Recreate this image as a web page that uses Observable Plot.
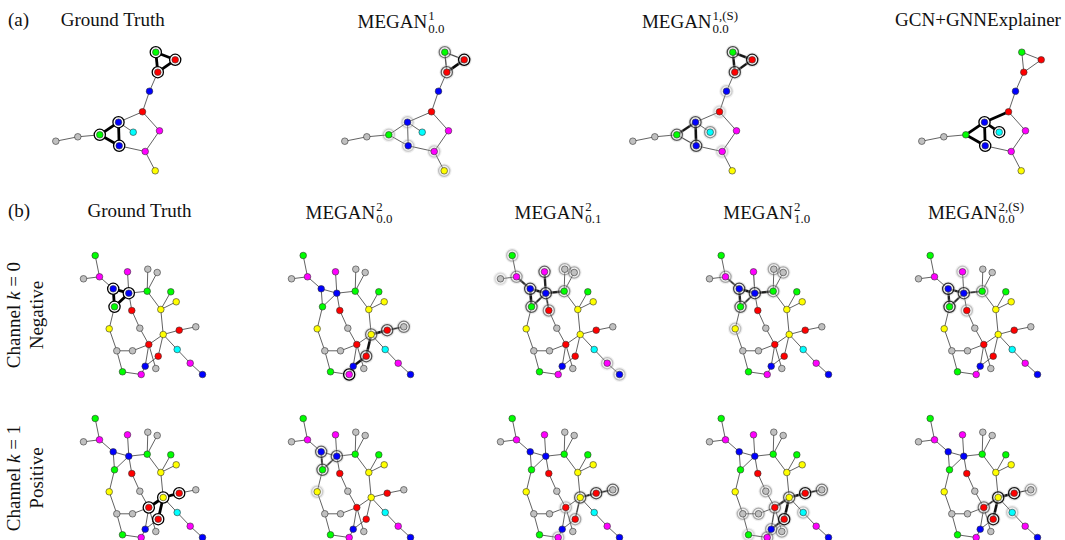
<!DOCTYPE html>
<html>
<head>
<meta charset="utf-8">
<script src="https://cdn.jsdelivr.net/npm/d3@7"></script>
<script src="https://cdn.jsdelivr.net/npm/@observablehq/plot@0.6"></script>
<style>
  body { margin: 0; background: white; }
  #fig { position: relative; width: 1065px; height: 540px; background: white; overflow: hidden;
         font-family: "Liberation Serif", "DejaVu Serif", serif; color: #111; }
  .panel { position: absolute; }
  .title { position: absolute; width: 240px; text-align: center; font-size: 19px; line-height: 19px; white-space: nowrap; }
  .tag { position: absolute; font-size: 19px; line-height: 19px; }
  .ss { display: inline-flex; flex-direction: column; align-items: flex-start; font-size: 0.68em; line-height: 1;
        vertical-align: 0.62em; margin-left: 1px; }
  .row { position: absolute; width: 200px; height: 46px; line-height: 23px; font-size: 19px; text-align: center;
         transform: rotate(-90deg); transform-origin: center; white-space: nowrap; }
</style>
</head>
<body>
<div id="fig"></div>
<script>
// ---------- categories / colours ----------
const catNames  = ["gray", "red", "green", "blue", "magenta", "yellow", "cyan"];
const catColors = ["#c0c0c0", "#ff0000", "#00ff00", "#0000ff", "#ff00ff", "#ffff00", "#00ffff"];

// ---------- graph A (layout coordinates) ----------
const aX   = [155.3, 174.7, 157.3, 149, 142, 159, 144.7, 154.7, 118, 132.7, 99.3, 118.7, 77.3, 55.3];
const aY   = [51.7, 59.3, 71.7, 90.7, 111.3, 130.3, 151, 170.3, 121.7, 131.7, 134.3, 145.3, 136.3, 140.7];
const aCat = ["green", "red", "red", "blue", "red", "magenta", "magenta", "yellow", "blue", "cyan", "green", "blue", "gray", "gray"];
const aEdges = [[0,1],[0,2],[1,2],[2,3],[3,4],[4,8],[4,5],[5,6],[6,7],[6,11],[8,9],[8,10],[8,11],[10,11],[10,12],[12,13]];

// ---------- graph B (layout coordinates) ----------
const bX = [94.7, 83, 99, 112.7, 127, 128.3, 114, 147.3, 156.7, 146.7, 170.3, 175.7, 160.3, 131.3, 108.7,
            139.3, 162.7, 178.7, 195.3, 148.3, 116.3, 132, 176.7, 157.7, 144.7, 155.3, 189.7, 122, 140.7, 202];
const bY = [255, 278.3, 276.3, 288.3, 271.3, 292.7, 306.3, 268.7, 272, 290.7, 291.3, 301.3, 309, 310, 328.3,
            327.7, 334, 329.7, 326.3, 344, 350.3, 350.3, 349, 355.7, 365.7, 368, 362.7, 371.3, 374, 374];
const bCat = ["green", "gray", "magenta", "blue", "magenta", "blue", "green", "gray", "gray", "green", "green", "yellow", "yellow", "red", "yellow",
              "gray", "yellow", "red", "gray", "red", "gray", "gray", "cyan", "red", "blue", "gray", "magenta", "green", "magenta", "blue"];
const bEdges = [[0,2],[1,2],[2,3],[3,5],[3,6],[5,6],[4,5],[5,9],[5,13],[9,7],[9,8],[9,12],[12,10],[12,11],[12,16],
                [13,15],[15,19],[6,14],[14,20],[20,21],[21,19],[20,27],[27,28],[19,16],[16,17],[17,18],[16,22],
                [22,26],[26,29],[16,23],[23,24],[24,28],[19,24],[19,25]];

// ---------- titles ----------
const titlesA = ["Ground Truth", ["1", "0.0"], ["1,(S)", "0.0"], "GCN+GNNExplainer"];
const titlesB = ["Ground Truth", ["2", "0.0"], ["2", "0.1"], ["2", "1.0"], ["2,(S)", "0.0"]];
const rowLabels = [["Channel <i>k</i> = 0", "Negative"], ["Channel <i>k</i> = 1", "Positive"]];

// ---------- explanations: [node, importance], [source, target, importance] ----------
const gtA_nodes = [[0,1],[1,1],[2,1],[8,1],[10,1],[11,1]];
const gtA_edges = [[0,1,1],[0,2,1],[1,2,1],[8,10,1],[8,11,1],[10,11,1]];
const m1_nodes  = [[1,1],[0,0.5],[2,0.6],[8,0.15],[10,0.15],[11,0.15],[6,0.15],[7,0.2]];
const m1_edges  = [[1,2,0.95],[0,1,0.3],[0,2,0.3]];
const m1s_nodes = [[0,0.7],[1,0.9],[2,0.7],[3,0.15],[4,0.1],[8,0.65],[9,0.4],[10,0.6],[11,0.7],[6,0.1]];
const m1s_edges = [[0,1,0.85],[0,2,0.85],[1,2,0.85],[8,10,0.85],[8,11,0.9],[10,11,0.25]];
const gnn_nodes = [[8,1],[9,1],[11,1]];
const gnn_edges = [[4,8,1],[8,9,1],[8,10,1],[8,11,1],[10,11,1]];

const gt0_nodes = [[3,1],[5,1],[6,1]];
const gt0_edges = [[3,5,1],[3,6,1],[5,6,1]];
const gt1_nodes = [[19,1],[16,1],[17,1],[23,1]];
const gt1_edges = [[19,16,1],[16,17,1],[16,23,1]];

const m200_0_nodes = [[16,0.55],[17,0.65],[18,0.5],[23,0.65],[28,1]];
const m200_0_edges = [[16,17,0.9],[17,18,0.5],[16,23,0.9],[23,24,0.9],[24,28,0.9]];
const m200_1_nodes = [[3,0.6],[5,0.6],[6,0.6],[14,0.15]];
const m200_1_edges = [[3,6,0.6],[5,6,0.5],[3,5,0.1]];

const m201_0_nodes = [[0,0.2],[1,0.1],[2,0.35],[3,0.7],[4,0.6],[5,0.7],[6,0.6],[7,0.3],[8,0.3],[9,0.4],[13,0.4],[26,0.2],[29,0.2]];
const m201_0_edges = [[2,3,0.7],[3,5,0.9],[3,6,0.9],[5,6,0.7],[4,5,0.8],[5,9,0.8],[5,13,0.5]];
const m201_1_nodes = [[16,0.6],[17,0.7],[18,0.6],[23,0.3],[19,0.2],[28,0.2]];
const m201_1_edges = [[16,17,0.7],[17,18,0.5],[16,23,0.4]];

const m210_0_nodes = [[2,0.3],[3,0.7],[5,0.7],[6,0.6],[7,0.3],[8,0.3],[9,0.4],[14,0.2]];
const m210_0_edges = [[2,3,0.6],[3,5,0.9],[3,6,0.8],[5,6,0.6],[5,9,0.8],[4,5,0.15]];
const m210_1_nodes = [[16,0.6],[17,0.9],[18,0.5],[19,0.4],[15,0.25],[20,0.25],[21,0.3],[22,0.2],[23,0.9],[24,0.3],[25,0.3],[28,0.3],[27,0.1]];
const m210_1_edges = [[16,17,0.9],[17,18,0.6],[16,23,0.9],[19,16,0.7],[23,24,0.7],[24,28,0.7],[19,24,0.3]];

const m2s_0_nodes = [[3,0.8],[5,0.7],[6,0.8],[4,0.2],[9,0.35],[13,0.2]];
const m2s_0_edges = [[3,5,0.8],[3,6,0.8],[5,6,0.7],[5,9,0.6]];
const m2s_1_nodes = [[16,0.9],[17,0.9],[18,0.3],[19,0.5],[23,0.9],[22,0.15]];
const m2s_1_edges = [[16,17,0.9],[16,23,0.9],[19,16,0.6],[17,18,0.3]];

const panelsA = [
  {nodes: gtA_nodes, edges: gtA_edges, halo: false},
  {nodes: m1_nodes,  edges: m1_edges,  halo: true},
  {nodes: m1s_nodes, edges: m1s_edges, halo: true},
  {nodes: gnn_nodes, edges: gnn_edges, halo: false}
];
const panelsB = [
  [{nodes: gt0_nodes, edges: gt0_edges, halo: false}, {nodes: gt1_nodes, edges: gt1_edges, halo: false}],
  [{nodes: m200_0_nodes, edges: m200_0_edges, halo: true}, {nodes: m200_1_nodes, edges: m200_1_edges, halo: true}],
  [{nodes: m201_0_nodes, edges: m201_0_edges, halo: true}, {nodes: m201_1_nodes, edges: m201_1_edges, halo: true}],
  [{nodes: m210_0_nodes, edges: m210_0_edges, halo: true}, {nodes: m210_1_nodes, edges: m210_1_edges, halo: true}],
  [{nodes: m2s_0_nodes, edges: m2s_0_edges, halo: true}, {nodes: m2s_1_nodes, edges: m2s_1_edges, halo: true}]
];

// ---------- layout ----------
const graphA = {x: aX, y: aY, cat: aCat, edges: aEdges, dx: [45, 185], dy: [40, 180]};
const graphB = {x: bX, y: bY, cat: bCat, edges: bEdges, dx: [75, 212], dy: [245, 384]};
const colOffA = [0, 289, 577, 866];
const colOffB = [0, 208, 417, 626, 834.7];
const rowOffB = [0, 163.3];
const titleCxA = [112.7, 401, 690, 978], titleTopA = 10;
const titleCxB = [139.5, 349, 558, 766.7, 976], titleTopB = 200.5;

const fig = document.getElementById("fig");

function drawPanel(g, panel, offX, offY) {
  const nodes = g.x.map((x, i) => ({x, y: g.y[i], c: g.cat[i]}));
  const link = ([s, t, w]) => ({x1: g.x[s], y1: g.y[s], x2: g.x[t], y2: g.y[t], w});
  const edges = g.edges.map(link);
  const hiE = panel.edges.map(link);
  const hiN = panel.nodes.map(([i, w]) => ({x: g.x[i], y: g.y[i], w}));
  const w = g.dx[1] - g.dx[0], h = g.dy[1] - g.dy[0];
  const svg = Plot.plot({
    width: w, height: h, margin: 0,
    x: {domain: g.dx, axis: null},
    y: {domain: g.dy, reverse: true, axis: null},
    color: {type: "ordinal", domain: catNames, range: catColors},
    marks: [
      Plot.link(edges, {x1: "x1", y1: "y1", x2: "x2", y2: "y2", stroke: "#505050", strokeWidth: 0.9}),
      Plot.link(hiE, {x1: "x1", y1: "y1", x2: "x2", y2: "y2", stroke: "black",
                      strokeWidth: d => 1 + 1.8 * d.w, strokeOpacity: d => d.w}),
      panel.halo ? Plot.dot(hiN, {x: "x", y: "y", r: 7.4, fill: "#c4c4c4", fillOpacity: d => 0.22 + 0.2 * d.w}) : null,
      Plot.dot(hiN, {x: "x", y: "y", r: 5.6, fill: "white", fillOpacity: d => panel.halo ? 0.5 * d.w : 1,
                     stroke: "black", strokeOpacity: d => d.w, strokeWidth: 1.3}),
      Plot.dot(nodes, {x: "x", y: "y", r: 3.3, fill: {value: "c", scale: "color"}, stroke: "#333", strokeWidth: 0.6})
    ]
  });
  svg.classList.add("panel");
  svg.style.left = (offX + g.dx[0]) + "px";
  svg.style.top = (offY + g.dy[0]) + "px";
  svg.style.background = "transparent";
  svg.style.overflow = "visible";
  fig.appendChild(svg);
}

function titleHTML(t) {
  if (typeof t === "string") return t;
  return `MEGAN<span class="ss"><span>${t[0]}</span><span>${t[1]}</span></span>`;
}
function addTitle(t, cx, top) {
  const d = document.createElement("div");
  d.className = "title";
  d.style.left = (cx - 120) + "px";
  d.style.top = top + "px";
  d.innerHTML = titleHTML(t);
  fig.appendChild(d);
}
function addTag(t, x, top) {
  const d = document.createElement("div");
  d.className = "tag";
  d.style.left = x + "px"; d.style.top = top + "px";
  d.textContent = t;
  fig.appendChild(d);
}

addTag("(a)", 8, titleTopA);
addTag("(b)", 8, titleTopB);
titlesA.forEach((t, i) => addTitle(t, titleCxA[i], titleTopA));
titlesB.forEach((t, i) => addTitle(t, titleCxB[i], titleTopB));

rowLabels.forEach((lines, r) => {
  const d = document.createElement("div");
  d.className = "row";
  const cy = 315 + rowOffB[r];
  d.style.left = (25 - 100) + "px";
  d.style.top = (cy - 23) + "px";
  d.innerHTML = lines.join("<br>");
  fig.appendChild(d);
});

panelsA.forEach((p, i) => drawPanel(graphA, p, colOffA[i], 0));
panelsB.forEach((col, i) => col.forEach((p, r) => drawPanel(graphB, p, colOffB[i], rowOffB[r])));
</script>
</body>
</html>
